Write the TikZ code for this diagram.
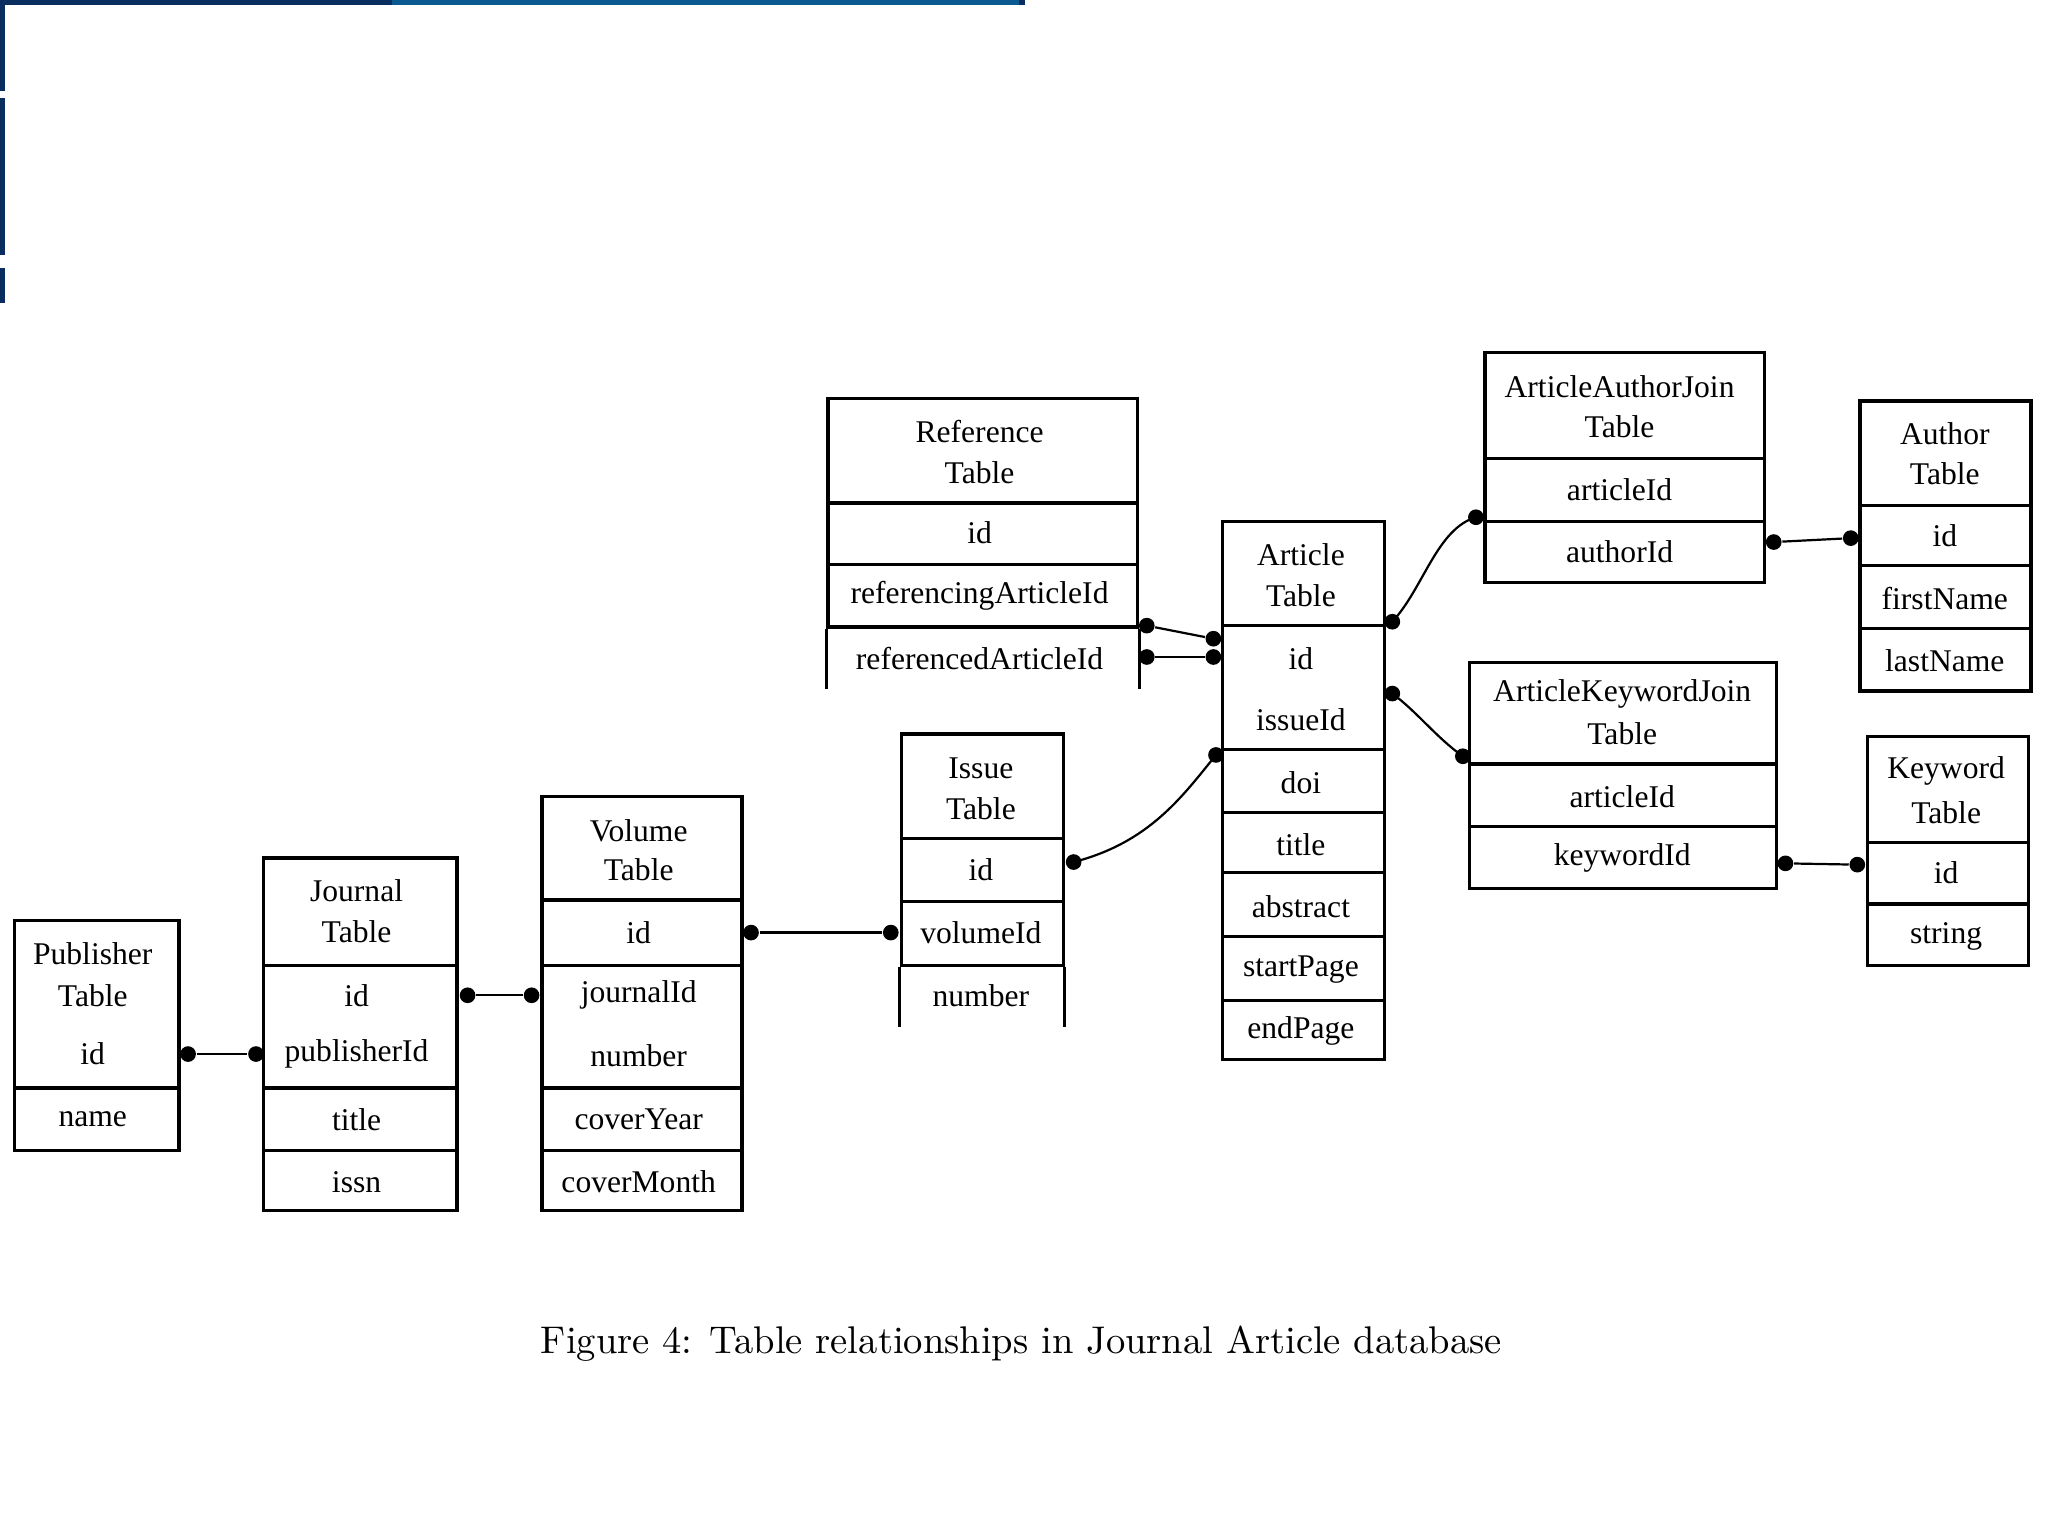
\documentclass[tikz,border=0pt]{standalone}
\usepackage{fontspec}
\newfontfamily\tabfont{Liberation Serif}
\begin{document}
\begin{tikzpicture}[x=0.0125cm,y=-0.0125cm,
  box/.style={draw,line width=0.9pt,inner sep=0pt},
  lbl/.style={font=\tabfont\fontsize{8.6}{10}\selectfont,inner sep=0pt},
  conn/.style={line width=0.6pt},
  dot/.style={circle,fill=black,inner sep=0pt,minimum size=0.15cm}]
\useasboundingbox (0,0) rectangle (1568,1176);
\definecolor{navy}{RGB}{10,45,95}\definecolor{mblue}{RGB}{10,90,145}
\fill[navy] (0,0) rectangle (785,4);
\fill[mblue] (300,0) rectangle (780,4);
\fill[navy] (0,0) rectangle (4,70);
\fill[navy] (0,75) rectangle (4,195);
\fill[navy] (0,205) rectangle (4,232);
\newcommand\cb[5]{\node[box,minimum width={(#4-#2)*0.0125cm},minimum height={(#5-#3)*0.0125cm}] (#1) at ({(#2+#4)/2},{(#3+#5)/2}) {};}
\newcommand\tx[4]{\node[lbl] (#1) at (#2,#3) {#4};}
% Publisher
\cb{pubH}{11}{705}{137}{833}\cb{pubN}{11}{833}{137}{881}
\tx{t1}{71}{730}{Publisher}\tx{t2}{71}{762}{Table}\tx{t3}{71}{807}{id}\tx{t4}{71}{857}{name}
% Journal
\cb{joH}{202}{657}{350}{739}\cb{joA}{202}{739}{350}{833}\cb{joT}{202}{833}{350}{881}\cb{joI}{202}{881}{350}{927}
\tx{t5}{273}{682}{Journal}\tx{t6}{273}{713}{Table}\tx{t7}{273}{762}{id}\tx{t8}{273}{807}{publisherId}\tx{t9}{273}{857}{title}\tx{t10}{273}{905}{issn}
% Volume
\cb{voH}{415}{610}{568}{689}\cb{voI}{415}{689}{568}{739}\cb{voJ}{415}{739}{568}{833}\cb{voY}{415}{833}{568}{881}\cb{voM}{415}{881}{568}{927}
\tx{t11}{489}{636}{Volume}\tx{t12}{489}{666}{Table}\tx{t13}{489}{714}{id}\tx{t14}{489}{762}{journalId}\tx{t15}{489}{808}{number}\tx{t16}{489}{857}{coverYear}\tx{t17}{489}{905}{coverMonth}
% Issue
\cb{isH}{690}{562}{814}{642}\cb{isI}{690}{642}{814}{690}\cb{isV}{690}{690}{814}{739}
\draw[line width=0.9pt] (isV.south west) -- ++(0,46) coordinate (isBL) (isV.south east) -- ++(0,46) coordinate (isBR);
\tx{t18}{751}{588}{Issue}\tx{t19}{751}{619}{Table}\tx{t20}{751}{666}{id}\tx{t21}{751}{714}{volumeId}\tx{t22}{751}{762}{number}
% Reference
\cb{reH}{634}{305}{871}{385}\cb{reI}{634}{385}{871}{432}\cb{reR}{634}{432}{871}{480}
\draw[line width=0.9pt] (reR.south west) -- ++(0,46) coordinate (reBL) (reR.south east) -- ++(0,46) coordinate (reBR);
\tx{t23}{750}{330}{Reference}\tx{t24}{750}{362}{Table}\tx{t25}{750}{408}{id}\tx{t26}{750}{456}{referencingArticleId}\tx{t27}{750}{504}{referencedArticleId}
% Article
\cb{arH}{936}{399}{1060}{479}\cb{arI}{936}{479}{1060}{574}\cb{arD}{936}{574}{1060}{622}\cb{arT}{936}{622}{1060}{668}\cb{arA}{936}{668}{1060}{717}\cb{arS}{936}{717}{1060}{766}\cb{arE}{936}{766}{1060}{811}
\tx{t28}{996}{425}{Article}\tx{t29}{996}{456}{Table}\tx{t30}{996}{504}{id}\tx{t31}{996}{551}{issueId}\tx{t32}{996}{599}{doi}\tx{t33}{996}{647}{title}\tx{t34}{996}{694}{abstract}\tx{t35}{996}{742}{startPage}\tx{t36}{996}{789}{endPage}
% ArticleAuthorJoin
\cb{aaH}{1137}{270}{1351}{351}\cb{aaA}{1137}{351}{1351}{399}\cb{aaU}{1137}{399}{1351}{446}
\tx{t37}{1240}{296}{ArticleAuthorJoin}\tx{t38}{1240}{327}{Table}\tx{t39}{1240}{375}{articleId}\tx{t40}{1240}{422}{authorId}
% Author
\cb{auH}{1424}{307}{1555}{387}\cb{auI}{1424}{387}{1555}{433}\cb{auF}{1424}{433}{1555}{481}\cb{auL}{1424}{481}{1555}{529}
\tx{t41}{1489}{332}{Author}\tx{t42}{1489}{363}{Table}\tx{t43}{1489}{410}{id}\tx{t44}{1489}{458}{firstName}\tx{t45}{1489}{506}{lastName}
% ArticleKeywordJoin
\cb{akH}{1125}{507}{1360}{585}\cb{akA}{1125}{585}{1360}{633}\cb{akK}{1125}{633}{1360}{680}
\tx{t46}{1242}{531}{ArticleKeywordJoin}\tx{t47}{1242}{562}{Table}\tx{t48}{1242}{610}{articleId}\tx{t49}{1242}{657}{keywordId}
% Keyword
\cb{kwH}{1430}{564}{1553}{645}\cb{kwI}{1430}{645}{1553}{692}\cb{kwS}{1430}{692}{1553}{739}
\tx{t50}{1490}{590}{Keyword}\tx{t51}{1490}{622}{Table}\tx{t52}{1490}{668}{id}\tx{t53}{1490}{717}{string}
% connectors
\node[dot] (d1) at (144,807) {};\node[dot] (d2) at (196,807) {};
\node[dot] (d3) at (358,762) {};\node[dot] (d4) at (407,762) {};
\node[dot] (d5) at (575,714) {};\node[dot] (d6) at (682,714) {};
\node[dot] (d7) at (822,660) {};\node[dot] (d8) at (931,578) {};
\node[dot] (d9) at (878,479) {};\node[dot] (d10) at (929,489) {};
\node[dot] (d11) at (878,503) {};\node[dot] (d12) at (929,503) {};
\node[dot] (d13) at (1066,476) {};\node[dot] (d14) at (1130,396) {};
\node[dot] (d15) at (1066,531) {};\node[dot] (d16) at (1120,579) {};
\node[dot] (d17) at (1358,415) {};\node[dot] (d18) at (1417,412) {};
\node[dot] (d19) at (1367,661) {};\node[dot] (d20) at (1422,662) {};
\draw[conn] (d1) -- (d2); \draw[conn] (d3) -- (d4); \draw[conn] (d5) -- (d6);
\draw[conn] (d7.center) .. controls (880,645) and (905,610) .. (d8.center);
\draw[conn] (d9) -- (d10); \draw[conn] (d11) -- (d12);
\draw[conn] (d13.center) .. controls (1090,450) and (1100,405) .. (d14.center);
\draw[conn] (d15.center) .. controls (1085,545) and (1100,565) .. (d16.center);
\draw[conn] (d17) -- (d18); \draw[conn] (d19) -- (d20);
% caption
\node[font=\fontsize{10.5}{12}\selectfont] (cap) at (782,1029) {Figure 4: Table relationships in Journal Article database};
\end{tikzpicture}
\end{document}
